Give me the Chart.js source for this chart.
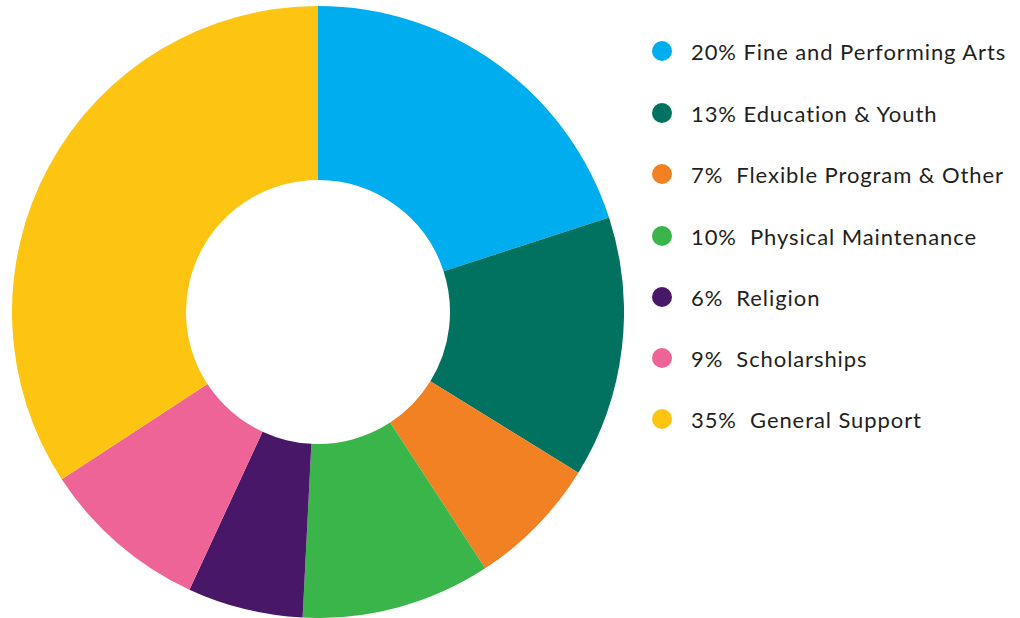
<!DOCTYPE html>
<html>
<head>
<meta charset="utf-8">
<script src="https://cdn.jsdelivr.net/npm/chart.js@4/dist/chart.umd.min.js"></script>
<style>
  html, body { margin: 0; padding: 0; background: #fff; }
  body { width: 1020px; height: 618px; position: relative; overflow: hidden; }
  #wrap { position: absolute; left: 12px; top: 6px; width: 612px; height: 612px; }
  #legend { position: absolute; left: 0; top: 0; }
  .item { position: absolute; left: 652px; height: 22px; display: flex; align-items: center;
          font-family: Lato, "Open Sans", sans-serif; font-size: 22px; color: #231f20;
          letter-spacing: 0.92px; white-space: pre; }
  .dot { width: 20px; height: 20px; border-radius: 50%; margin-right: 19px; flex: none; }
</style>
</head>
<body>
<div id="wrap"><canvas id="c"></canvas></div>
<div id="legend"></div>
<script>
const categories = ["Fine and Performing Arts", "Education & Youth", "Flexible Program & Other", "Physical Maintenance", "Religion", "Scholarships", "General Support"];
const values = [20.0, 13.8, 7.0, 10.0, 6.1, 8.9, 34.2];
const legendLabels = ["20% Fine and Performing Arts", "13% Education & Youth", "7%  Flexible Program & Other", "10%  Physical Maintenance", "6%  Religion", "9%  Scholarships", "35%  General Support"];
const colors = ["#00AEEF", "#00725F", "#F28123", "#3AB54A", "#481768", "#EF6497", "#FEC412"];

new Chart(document.getElementById('c'), {
  type: 'doughnut',
  data: {
    labels: categories,
    datasets: [{ data: values, backgroundColor: colors, borderWidth: 0, hoverOffset: 0 }]
  },
  options: {
    responsive: true,
    maintainAspectRatio: false,
    animation: false,
    cutout: 132,
    layout: { padding: 0 },
    plugins: { legend: { display: false }, tooltip: { enabled: false } }
  }
});

const lg = document.getElementById('legend');
const rowY = [51, 113, 174, 236, 297, 358, 419];
legendLabels.forEach((t, i) => {
  const d = document.createElement('div');
  d.className = 'item';
  d.style.top = (rowY[i] - 11) + 'px';
  d.innerHTML = '<span class="dot" style="background:' + colors[i] + '"></span><span class="txt"></span>';
  d.querySelector('.txt').textContent = t;
  lg.appendChild(d);
});
</script>
</body>
</html>
